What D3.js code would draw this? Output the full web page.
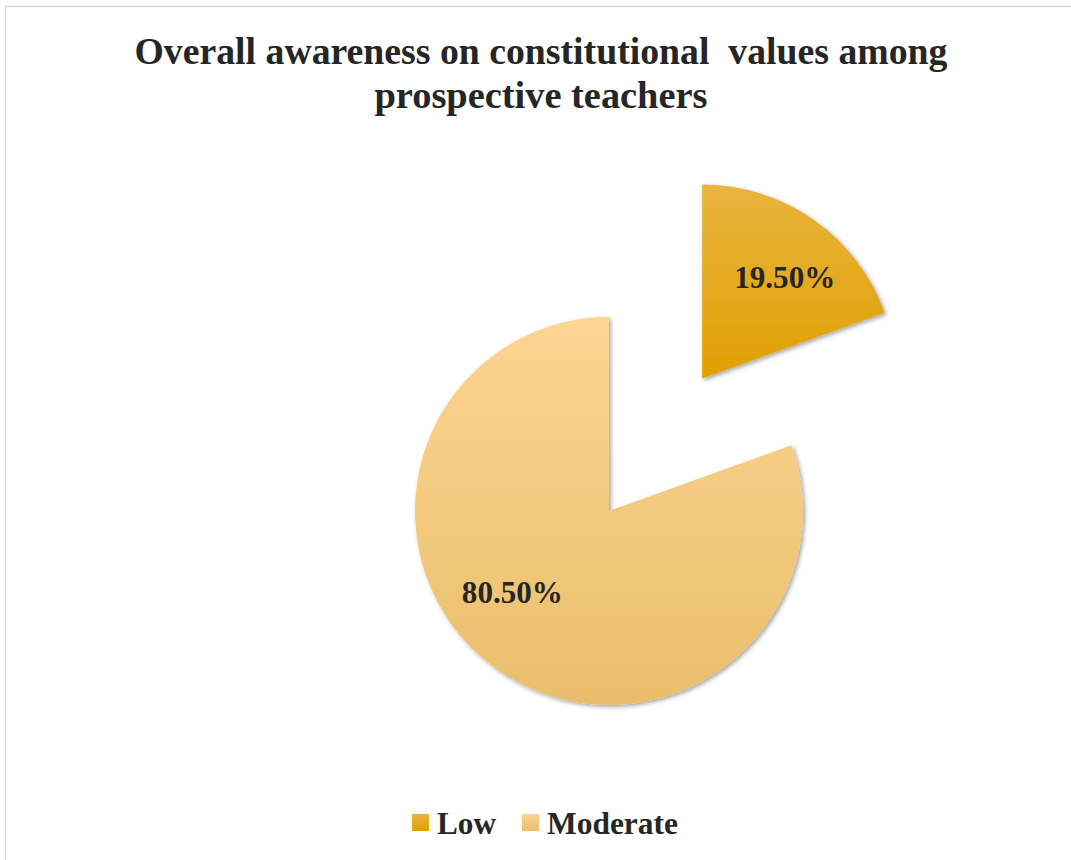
<!DOCTYPE html>
<html>
<head>
<meta charset="utf-8">
<script src="https://cdn.jsdelivr.net/npm/d3@7"></script>
<style>
html,body{margin:0;padding:0;background:#fff;}
svg{display:block;}
text{font-family:"Liberation Serif","Times New Roman",serif;font-weight:bold;fill:#262626;}
</style>
</head>
<body>
<svg id="chart" width="1071" height="860"></svg>
<script>
const categories = ["Low", "Moderate"];
const values = [19.5, 80.5];
const valueLabels = ["19.50%", "80.50%"];
const titleLines = ["Overall awareness on constitutional  values among", "prospective teachers"];

const svg = d3.select("#chart");
const W = 1071, H = 860;

// border (top & left visible)
svg.append("rect").attr("x", 5.5).attr("y", 6.5).attr("width", W + 10).attr("height", H + 10)
  .attr("fill", "none").attr("stroke", "#d9d9d9").attr("stroke-width", 1.5);

const defs = svg.append("defs");
const gradColors = [["#E9B43F", "#E0A000"], ["#FDD591", "#E9BE6B"]];
gradColors.forEach((c, i) => {
  const g = defs.append("linearGradient").attr("id", "grad" + i)
    .attr("x1", 0).attr("y1", 0).attr("x2", 0).attr("y2", 1);
  g.append("stop").attr("offset", "0%").attr("stop-color", c[0]);
  g.append("stop").attr("offset", "100%").attr("stop-color", c[1]);
});
const f = defs.append("filter").attr("id", "shadow").attr("x", "-20%").attr("y", "-20%").attr("width", "140%").attr("height", "140%");
f.append("feDropShadow").attr("dx", 2).attr("dy", 2).attr("stdDeviation", 2.2)
  .attr("flood-color", "#000").attr("flood-opacity", 0.35);

// title
const titleWidths = [813, 333];
titleLines.forEach((t, i) => {
  svg.append("text").attr("x", 541).attr("y", 64 + i * 44)
    .attr("text-anchor", "middle").attr("font-size", 37)
    .attr("textLength", titleWidths[i]).attr("lengthAdjust", "spacingAndGlyphs")
    .style("white-space", "pre")
    .text(t);
});

// pie
const cx = 609, cy = 511, R = 194, explode = 162;
const pie = d3.pie().sort(null).value(d => d)(values);
const arc = d3.arc().innerRadius(0).outerRadius(R);
const gPie = svg.append("g").attr("transform", `translate(${cx},${cy})`);

const explodeBy = [explode, 0];
const labelShift = [4 * Math.PI / 180, 15 * Math.PI / 180];
const labelR = [131, 126];

pie.forEach((p, i) => {
  const mid = (p.startAngle + p.endAngle) / 2;
  const ox = Math.sin(mid) * explodeBy[i];
  const oy = -Math.cos(mid) * explodeBy[i];
  const g = gPie.append("g").attr("transform", `translate(${ox},${oy})`);
  g.append("path").attr("d", arc(p)).attr("fill", `url(#grad${i})`).attr("filter", "url(#shadow)");
  const la = mid + labelShift[i];
  const lx = Math.sin(la) * labelR[i];
  const ly = -Math.cos(la) * labelR[i];
  g.append("text").attr("x", lx).attr("y", ly + 11)
    .attr("text-anchor", "middle").attr("font-size", 32)
    .attr("textLength", 101).attr("lengthAdjust", "spacingAndGlyphs")
    .text(valueLabels[i]);
});

// legend
const legendX = [412, 522];
const legendW = [59, 131];
categories.forEach((c, i) => {
  svg.append("rect").attr("x", legendX[i]).attr("y", 814).attr("width", 17).attr("height", 17)
    .attr("fill", `url(#grad${i})`);
  svg.append("text").attr("x", legendX[i] + 25).attr("y", 834)
    .attr("font-size", 31).attr("textLength", legendW[i]).attr("lengthAdjust", "spacingAndGlyphs")
    .text(c);
});
</script>
</body>
</html>
